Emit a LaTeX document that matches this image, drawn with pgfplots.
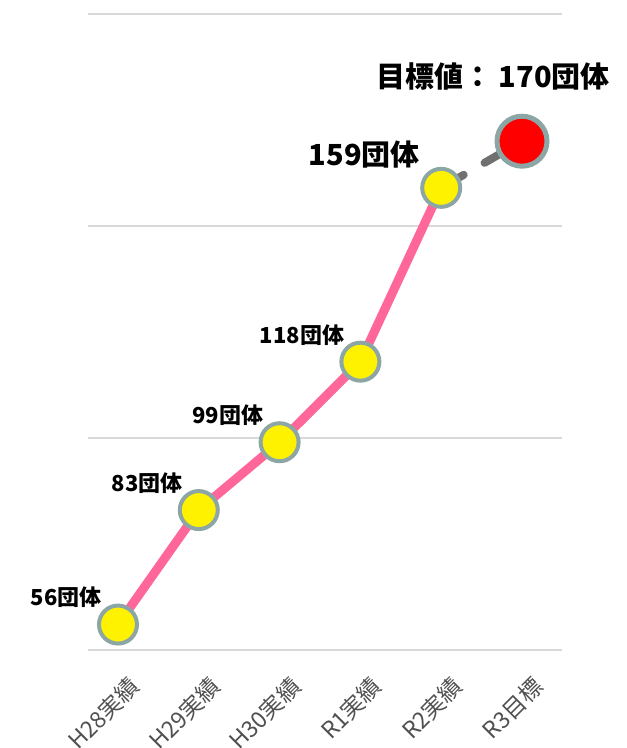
\documentclass[border=0pt]{standalone}
\usepackage{pgfplots}
\pgfplotsset{compat=1.18}
\usepackage{fontspec}
\setmainfont{Noto Sans CJK JP}
\definecolor{pinkline}{HTML}{FF6699}
\definecolor{bordergray}{HTML}{8CA5A5}
\definecolor{dgray}{HTML}{707070}
\definecolor{gridgray}{HTML}{D9D9D9}
\definecolor{ticgray}{HTML}{505050}
\begin{document}
\begin{tikzpicture}
\begin{axis}[
  at={(0,0)}, anchor=south west,
  scale only axis, width=474pt, height=636pt,
  xmin=-0.371, xmax=5.495, ymin=50, ymax=200,
  ytick={50,100,150,200}, yticklabels={},
  ymajorgrids, grid style={draw=gridgray, line width=1.5pt},
  axis line style={draw=none},
  major tick length=0pt,
  xtick={0,1,2,3,4,5},
  xticklabels={H28実績,H29実績,H30実績,R1実績,R2実績,R3目標},
  xticklabel style={inner sep=1pt, xshift=17.5pt, yshift=-31.5pt, rotate=45, anchor=east,
    font=\fontsize{23pt}{27pt}\selectfont, text=ticgray},
  clip=false,
  point meta=explicit symbolic,
]
% dashed projection segment
\addplot[draw=dgray, line width=8pt, line cap=round, dash pattern=on 26pt off 24pt]
  coordinates {(4,159) (5,170)};
% actual results
\addplot[draw=pinkline, line width=9pt, line join=round,
  mark=*, mark size=19pt,
  mark options={fill=yellow, draw=bordergray, line width=4pt, solid},
  nodes near coords,
  every node near coord/.append style={anchor=east, xshift=-11pt, yshift=27pt,
    font=\bfseries\fontsize{22pt}{26pt}\selectfont, text=black}]
  coordinates {(0,56)[56団体] (1,83)[83団体] (2,99)[99団体] (3,118)[118団体] (4,159)[{}]};
% label for R2
\addplot[draw=none, no marks,
  nodes near coords,
  every node near coord/.append style={anchor=east, xshift=-18pt, yshift=33pt,
    font=\bfseries\fontsize{29pt}{32pt}\selectfont, text=black}]
  coordinates {(4,159)[159団体]};
% target
\addplot[draw=none, mark=*, mark size=25pt,
  mark options={fill=red, draw=bordergray, line width=5pt, solid},
  nodes near coords,
  every node near coord/.append style={anchor=center, xshift=-29pt, yshift=65pt,
    font=\bfseries\fontsize{29pt}{32pt}\selectfont, text=black}]
  coordinates {(5,170)[目標値： 170団体]};
\end{axis}
\pgfresetboundingbox
\path[use as bounding box] ([shift={(-88pt,-98pt)}]current axis.south west) rectangle ([shift={(64pt,14pt)}]current axis.north east);
\end{tikzpicture}
\end{document}
